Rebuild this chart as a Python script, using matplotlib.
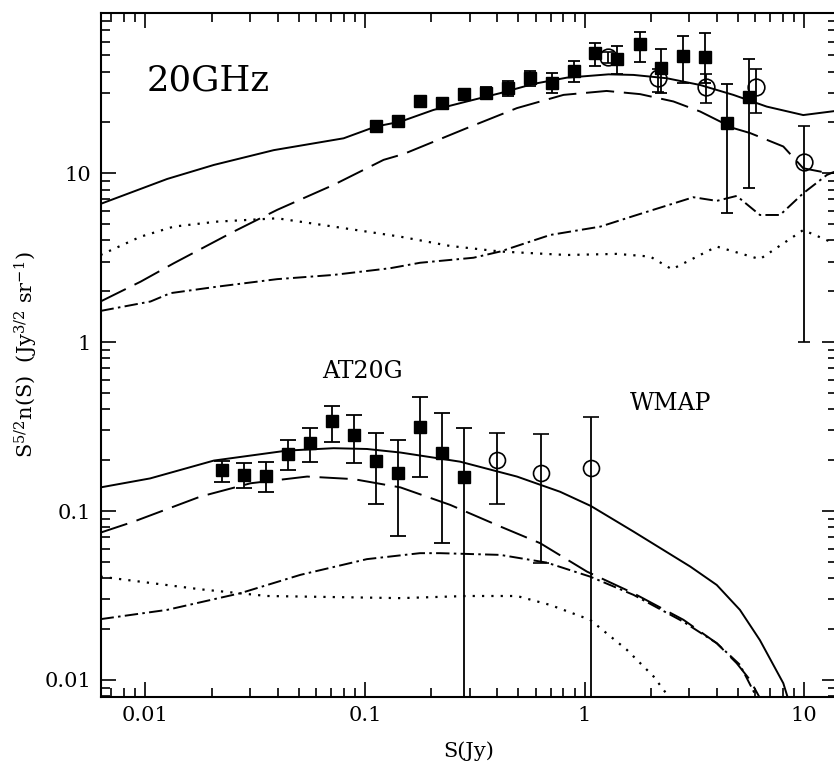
import numpy as np
import matplotlib
matplotlib.use("Agg")
import matplotlib.pyplot as plt
from matplotlib.ticker import FixedLocator, FixedFormatter, LogLocator, NullFormatter

# ---------- DATA ----------
# upper group: 20GHz source counts (scaled), filled squares
sq_hi_x = [0.112, 0.141, 0.178, 0.224, 0.282, 0.355, 0.447, 0.562, 0.708, 0.891,
           1.12, 1.41, 1.78, 2.24, 2.82, 3.55, 4.47, 5.62]
sq_hi_y = [19.1, 20.5, 26.6, 25.9, 29.3, 30.0, 32.1, 36.8, 34.4, 40.4,
           51.3, 47.3, 58.1, 41.9, 49.5, 48.6, 19.9, 28.1]
sq_hi_lo = [18.3, 19.7, 25.5, 24.2, 27.4, 27.8, 28.8, 33.0, 30.0, 34.8,
            43.2, 38.7, 45.4, 30.0, 34.1, 34.1, 5.85, 8.15]
sq_hi_up = [19.9, 21.4, 27.7, 27.7, 31.4, 32.3, 35.2, 40.5, 39.1, 46.2,
            58.9, 56.8, 68.9, 54.2, 65.3, 67.5, 33.8, 47.3]

# upper group: WMAP, open circles
ci_hi_x = [1.285, 2.16, 3.57, 6.04, 9.99]
ci_hi_y = [48.6, 36.8, 32.3, 32.3, 11.6]
ci_hi_lo = [45.0, 30.2, 26.2, 22.8, 1.007]
ci_hi_up = [52.0, 41.5, 38.7, 41.5, 19.1]

# lower group: AT20G, filled squares
sq_lo_x = [0.0224, 0.0282, 0.0355, 0.0447, 0.0562, 0.0708, 0.0891, 0.112, 0.141,
           0.178, 0.224, 0.282]
sq_lo_y = [0.174, 0.164, 0.162, 0.218, 0.252, 0.339, 0.281, 0.198, 0.169,
           0.316, 0.222, 0.158]
sq_lo_lo = [0.149, 0.137, 0.129, 0.174, 0.196, 0.256, 0.192, 0.110, 0.0715,
            0.158, 0.065, 1e-5]
sq_lo_up = [0.198, 0.192, 0.196, 0.264, 0.310, 0.420, 0.368, 0.289, 0.264,
            0.472, 0.380, 0.312]

# lower group: WMAP, open circles
ci_lo_x = [0.399, 0.632, 1.068]
ci_lo_y = [0.201, 0.168, 0.181]
ci_lo_lo = [0.110, 0.0495, 1e-5]
ci_lo_up = [0.289, 0.286, 0.358]

# model curves, upper group
hi_tot_x = [0.00624, 0.01256, 0.0205, 0.0384, 0.0799, 0.112, 0.145, 0.205, 0.291, 0.413,
            0.585, 0.830, 1.285, 1.67, 2.37, 3.36, 4.76, 6.76, 9.91, 14.0]
hi_tot_y = [6.58, 9.25, 11.2, 13.7, 16.1, 18.9, 20.2, 23.7, 26.6, 29.8,
            33.8, 36.8, 38.5, 38.2, 36.5, 33.3, 29.1, 24.8, 22.1, 23.4]
hi_dash_x = [0.00624, 0.0095, 0.01345, 0.0252, 0.0398, 0.0719, 0.1215, 0.150, 0.291, 0.492,
             0.802, 1.26, 1.79, 2.54, 3.36, 4.76, 5.67, 8.04, 9.91, 12.0, 14.0]
hi_dash_y = [1.74, 2.28, 2.93, 4.51, 6.07, 8.53, 12.0, 13.0, 18.5, 24.3,
             29.1, 30.7, 29.4, 26.6, 23.2, 18.5, 17.3, 14.4, 10.7, 10.2, 10.0]
hi_dot_x = [0.00624, 0.0095, 0.01345, 0.0212, 0.0398, 0.0719, 0.145, 0.244, 0.413, 0.830,
            1.40, 1.99, 2.50, 4.00, 6.29, 9.91, 14.0]
hi_dot_y = [3.28, 4.21, 4.83, 5.17, 5.41, 4.83, 4.21, 3.71, 3.44, 3.28,
            3.33, 3.21, 2.70, 3.68, 3.10, 4.61, 3.80]
hi_dd_x = [0.00624, 0.01054, 0.0130, 0.0212, 0.0398, 0.0719, 0.1304, 0.178, 0.312, 0.413,
           0.697, 1.18, 1.67, 3.13, 4.00, 4.93, 6.29, 7.77, 9.91, 12.7, 14.0]
hi_dd_y = [1.53, 1.74, 1.95, 2.13, 2.36, 2.50, 2.74, 2.95, 3.16, 3.44,
           4.31, 4.83, 5.58, 7.21, 6.86, 7.34, 5.66, 5.66, 7.61, 9.77, 10.3]

# model curves, lower group
lo_tot_x = [0.00624, 0.0105, 0.0205, 0.0442, 0.0719, 0.102, 0.145, 0.271, 0.492, 0.774,
            1.07, 1.67, 3.03, 4.00, 5.10, 6.29, 8.04, 8.6]
lo_tot_y = [0.138, 0.156, 0.199, 0.228, 0.2355, 0.233, 0.222, 0.196, 0.160, 0.130,
            0.107, 0.0756, 0.0469, 0.0365, 0.026, 0.0172, 0.00956, 0.0072]
lo_dash_x = [0.00624, 0.00885, 0.0178, 0.0301, 0.0545, 0.0887, 0.145, 0.244, 0.413, 0.628,
             1.025, 1.67, 2.82, 4.00, 4.93, 5.67, 6.4]
lo_dash_y = [0.0745, 0.0866, 0.1218, 0.146, 0.160, 0.1545, 0.138, 0.1088, 0.081, 0.0645,
             0.0438, 0.0326, 0.0227, 0.0165, 0.01256, 0.0100, 0.0075]
lo_dot_x = [0.00624, 0.0178, 0.0358, 0.145, 0.291, 0.492, 0.697, 1.06, 1.556, 2.06, 2.5]
lo_dot_y = [0.0409, 0.0344, 0.0314, 0.0305, 0.0314, 0.0314, 0.0278, 0.0227, 0.0151, 0.0105, 0.0075]
lo_dd_x = [0.00624, 0.01256, 0.0270, 0.0508, 0.102, 0.178, 0.220, 0.413, 0.673, 1.06,
           1.67, 2.82, 4.00, 5.10, 6.2]
lo_dd_y = [0.0229, 0.0260, 0.0326, 0.0419, 0.0519, 0.0563, 0.0563, 0.055, 0.0495, 0.0409,
           0.0319, 0.0221, 0.0165, 0.0123, 0.0075]

tick_vals = [0.01, 0.1, 1, 10]
tick_text = ["0.01", "0.1", "1", "10"]
# ---------------------------

plt.rcParams['font.family'] = ['DejaVu Serif']
plt.rcParams['mathtext.fontset'] = 'dejavuserif'

fig = plt.figure(figsize=(8.34, 7.67), dpi=100)
ax = fig.add_axes([0.1211, 0.0917, 0.8825, 0.8914])
ax.set_xscale('log')
ax.set_yscale('log')
ax.set_xlim(0.006272, 14.12)
ax.set_ylim(0.00796, 88.9)

lw = 1.4
styles = {
    'solid': dict(linestyle='-', lw=lw),
    'dash': dict(linestyle=(0, (14.5, 5)), lw=lw),
    'dot': dict(linestyle=(0, (1, 3.2)), lw=1.6),
    'dashdot': dict(linestyle=(0, (6.9, 2.2, 1.3, 2.2)), lw=lw),
}

for xs, ys, st in [(hi_tot_x, hi_tot_y, 'solid'), (hi_dash_x, hi_dash_y, 'dash'),
                   (hi_dot_x, hi_dot_y, 'dot'), (hi_dd_x, hi_dd_y, 'dashdot'),
                   (lo_tot_x, lo_tot_y, 'solid'), (lo_dash_x, lo_dash_y, 'dash'),
                   (lo_dot_x, lo_dot_y, 'dot'), (lo_dd_x, lo_dd_y, 'dashdot')]:
    ax.plot(xs, ys, color='black', **styles[st])

def errs(y, lo, up):
    y = np.array(y)
    return [y - np.array(lo), np.array(up) - y]

ax.errorbar(sq_hi_x, sq_hi_y, yerr=errs(sq_hi_y, sq_hi_lo, sq_hi_up), fmt='s',
            color='black', ms=8, capsize=4.5, elinewidth=1.3, capthick=1.3)
ax.errorbar(ci_hi_x, ci_hi_y, yerr=errs(ci_hi_y, ci_hi_lo, ci_hi_up), fmt='o',
            color='black', mfc='none', ms=12, mew=1.2, capsize=4.5,
            elinewidth=1.3, capthick=1.3)
ax.errorbar(sq_lo_x, sq_lo_y, yerr=errs(sq_lo_y, sq_lo_lo, sq_lo_up), fmt='s',
            color='black', ms=8.5, capsize=5.5, elinewidth=1.3, capthick=1.3)
ax.errorbar(ci_lo_x, ci_lo_y, yerr=errs(ci_lo_y, ci_lo_lo, ci_lo_up), fmt='o',
            color='black', mfc='none', ms=11.5, mew=1.2, capsize=5.5,
            elinewidth=1.3, capthick=1.3)

ax.text(0.0625, 0.886, "20GHz", transform=ax.transAxes, fontsize=25.5, va='baseline')
ax.text(0.300, 0.4657, "AT20G", transform=ax.transAxes, fontsize=17, va='baseline')
ax.text(0.7188, 0.4193, "WMAP", transform=ax.transAxes, fontsize=17, va='baseline')

for axis in (ax.xaxis, ax.yaxis):
    axis.set_major_locator(FixedLocator(tick_vals))
    axis.set_major_formatter(FixedFormatter(tick_text))
    axis.set_minor_locator(LogLocator(base=10, subs=np.arange(2, 10), numticks=20))
    axis.set_minor_formatter(NullFormatter())

ax.tick_params(which='both', direction='in', top=True, right=True, width=1.2,
               labelsize=15, pad=7)
ax.tick_params(which='major', length=11)
ax.tick_params(which='minor', length=6.5)
for sp in ax.spines.values():
    sp.set_linewidth(1.5)

ax.set_xlabel("S(Jy)", fontsize=15)
ax.xaxis.set_label_coords(0.5, -0.066)
ax.xaxis.label.set_va('top')
ax.set_ylabel(r"S$^{5/2}$n(S)  (Jy$^{3/2}$ sr$^{-1}$)", fontsize=15)
ax.yaxis.set_label_coords(-0.083, 0.5)

fig.savefig("out.png", dpi=100)
